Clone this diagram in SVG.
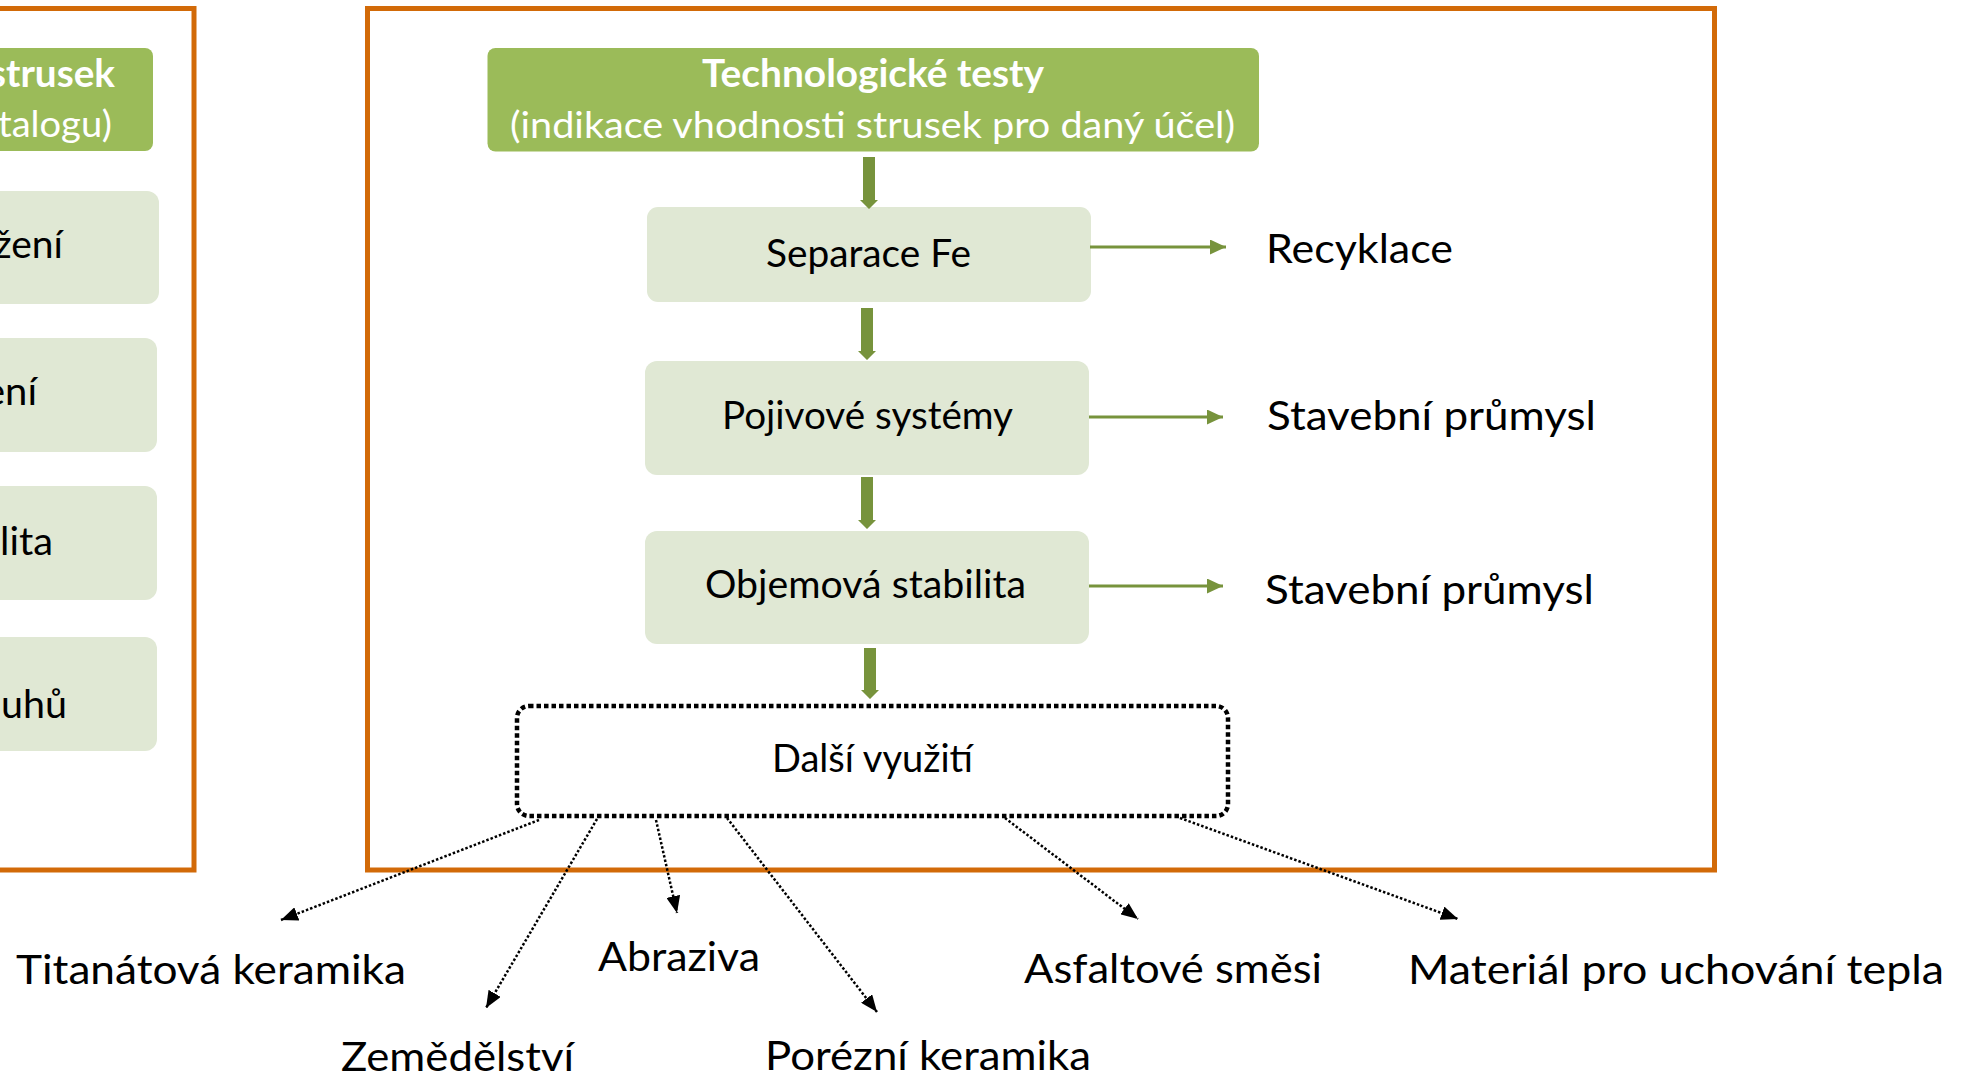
<svg xmlns="http://www.w3.org/2000/svg" width="1972" height="1077" viewBox="0 0 1972 1077">
<style>
.frame{fill:none;stroke:#D26A08;stroke-width:5}
.hdr{fill:#9BBB59}
.box{fill:#E0E8D4}
.t{font-family:Lato,"Open Sans","Liberation Sans",sans-serif;fill:#000}
.hw{font-family:Lato,"Open Sans","Liberation Sans",sans-serif;fill:#FFFFFF}
.n{font-size:38px}
.lbl{font-size:41px}
.thick{fill:#77933C}
.thin{stroke:#77933C;stroke-width:3;fill:none}
.dot{stroke:#000;stroke-width:2.5;stroke-dasharray:2.5 2;fill:none}
.dbox{fill:none;stroke:#000;stroke-width:4.5;stroke-dasharray:4.5 3}
</style>
<defs>
<marker id="ga" markerUnits="userSpaceOnUse" markerWidth="16" markerHeight="15" refX="16" refY="7.5" orient="auto">
<path d="M0,0 L16,7.5 L0,15 z" fill="#77933C"/>
</marker>
<marker id="ka" markerUnits="userSpaceOnUse" markerWidth="17" markerHeight="14" refX="17" refY="7" orient="auto">
<path d="M0,0 L17,7 L0,14 z" fill="#000"/>
</marker>
</defs>
<rect width="1972" height="1077" fill="#FFFFFF"/>

<g id="left-panel">
<rect class="frame" x="-20" y="8.5" width="214" height="861.5"/>
<rect class="hdr" x="-20" y="48" width="173" height="103" rx="8"/>
<text class="hw" x="115" y="87" font-size="37.5px" font-weight="bold" text-anchor="end" textLength="126" lengthAdjust="spacingAndGlyphs">strusek</text>
<text class="hw" x="112" y="137" font-size="37px" text-anchor="end" textLength="114" lengthAdjust="spacingAndGlyphs">talogu)</text>
<rect class="box" x="-20" y="191" width="179" height="113" rx="12"/>
<text class="t n" x="63" y="258" text-anchor="end" textLength="69" lengthAdjust="spacingAndGlyphs">žení</text>
<rect class="box" x="-20" y="338" width="177" height="114" rx="12"/>
<text class="t n" x="37" y="405" text-anchor="end" textLength="53" lengthAdjust="spacingAndGlyphs">ení</text>
<rect class="box" x="-20" y="486" width="177" height="114" rx="12"/>
<text class="t n" x="53" y="555" text-anchor="end" textLength="53" lengthAdjust="spacingAndGlyphs">lita</text>
<rect class="box" x="-20" y="637" width="177" height="114" rx="12"/>
<text class="t n" x="67" y="718" text-anchor="end" textLength="66" lengthAdjust="spacingAndGlyphs">uhů</text>
</g>

<g id="main-frame">
<rect class="frame" x="367.5" y="8.5" width="1347" height="861.5"/>
</g>

<g id="node-header">
<rect class="hdr" x="487.5" y="48" width="771.5" height="103.5" rx="8"/>
<text class="hw" x="873" y="87" font-size="37.5px" font-weight="bold" text-anchor="middle" textLength="342" lengthAdjust="spacingAndGlyphs">Technologické testy</text>
<text class="hw" x="872.5" y="138" font-size="37px" text-anchor="middle" textLength="725" lengthAdjust="spacingAndGlyphs">(indikace vhodnosti strusek pro daný účel)</text>
</g>

<g id="node-separace">
<rect class="box" x="647" y="207" width="444" height="95" rx="11"/>
<text class="t n" x="868.5" y="267" text-anchor="middle" textLength="205" lengthAdjust="spacingAndGlyphs">Separace Fe</text>
</g>

<g id="node-pojivove">
<rect class="box" x="645" y="361" width="444" height="114" rx="12"/>
<text class="t n" x="867.5" y="429" text-anchor="middle" textLength="291" lengthAdjust="spacingAndGlyphs">Pojivové systémy</text>
</g>

<g id="node-objemova">
<rect class="box" x="645" y="531" width="444" height="113" rx="12"/>
<text class="t n" x="865.5" y="598" text-anchor="middle" textLength="321" lengthAdjust="spacingAndGlyphs">Objemová stabilita</text>
</g>

<g id="node-dalsi">
<rect class="dbox" x="517" y="706" width="711" height="110" rx="12"/>
<text class="t n" x="872.5" y="772" text-anchor="middle" textLength="201" lengthAdjust="spacingAndGlyphs">Další využití</text>
</g>

<g id="node-recyklace"><text class="t lbl" x="1266" y="263" textLength="187" lengthAdjust="spacingAndGlyphs">Recyklace</text></g>
<g id="node-stavebni1"><text class="t lbl" x="1267" y="430" textLength="329" lengthAdjust="spacingAndGlyphs">Stavební průmysl</text></g>
<g id="node-stavebni2"><text class="t lbl" x="1265" y="604" textLength="329" lengthAdjust="spacingAndGlyphs">Stavební průmysl</text></g>
<g id="node-titanatova"><text class="t lbl" x="16" y="984" textLength="390" lengthAdjust="spacingAndGlyphs">Titanátová keramika</text></g>
<g id="node-zemedelstvi"><text class="t lbl" x="341" y="1071" textLength="233" lengthAdjust="spacingAndGlyphs">Zemědělství</text></g>
<g id="node-abraziva"><text class="t lbl" x="598" y="971" textLength="162" lengthAdjust="spacingAndGlyphs">Abraziva</text></g>
<g id="node-porezni"><text class="t lbl" x="765" y="1070" textLength="326" lengthAdjust="spacingAndGlyphs">Porézní keramika</text></g>
<g id="node-asfaltove"><text class="t lbl" x="1024" y="983" textLength="298" lengthAdjust="spacingAndGlyphs">Asfaltové směsi</text></g>
<g id="node-material"><text class="t lbl" x="1408" y="984" textLength="536" lengthAdjust="spacingAndGlyphs">Materiál pro uchování tepla</text></g>

<g id="connectors">
<polygon class="thick" points="863,157 875,157 875,200 878,200 869,209 860,200 863,200"/>
<polygon class="thick" points="861,308 873,308 873,351 876,351 867,360 858,351 861,351"/>
<polygon class="thick" points="861,477 873,477 873,520 876,520 867,529 858,520 861,520"/>
<polygon class="thick" points="864,648 876,648 876,690 879,690 870,699 861,690 864,690"/>
<line class="thin" x1="1090" y1="247" x2="1226" y2="247" marker-end="url(#ga)"/>
<line class="thin" x1="1089" y1="417" x2="1223" y2="417" marker-end="url(#ga)"/>
<line class="thin" x1="1089" y1="586" x2="1223" y2="586" marker-end="url(#ga)"/>
<line class="dot" x1="539" y1="820" x2="281" y2="920" marker-end="url(#ka)"/>
<line class="dot" x1="597" y1="819" x2="486" y2="1008" marker-end="url(#ka)"/>
<line class="dot" x1="656" y1="820" x2="677" y2="913" marker-end="url(#ka)"/>
<line class="dot" x1="727" y1="818" x2="877" y2="1012" marker-end="url(#ka)"/>
<line class="dot" x1="1005" y1="818" x2="1138" y2="919" marker-end="url(#ka)"/>
<line class="dot" x1="1180" y1="818" x2="1458" y2="919" marker-end="url(#ka)"/>
</g>
</svg>
